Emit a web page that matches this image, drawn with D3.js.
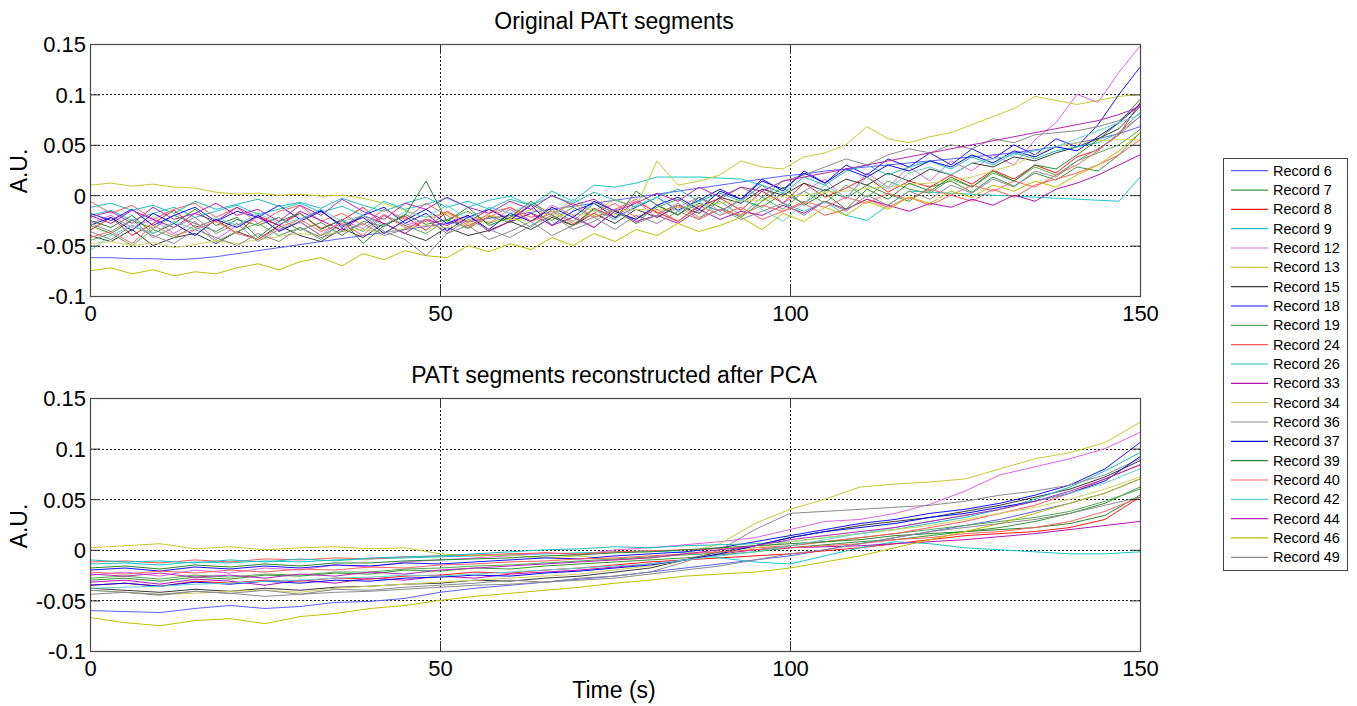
<!DOCTYPE html>
<html><head><meta charset="utf-8">
<script src="https://cdn.jsdelivr.net/npm/d3@7"></script>
<style>
body{margin:0;background:#fff;}
text{font-family:"Liberation Sans",Arial,sans-serif;fill:#000;}
</style>
</head><body>
<svg id="chart" width="1357" height="706"></svg>
<script>
// ---------- DATA (values in units of 0.001 A.U.) ----------
const records = ["Record 6","Record 7","Record 8","Record 9","Record 12","Record 13","Record 15","Record 18","Record 19","Record 24","Record 26","Record 33","Record 34","Record 36","Record 37","Record 39","Record 40","Record 42","Record 44","Record 46","Record 49"];
const recordColors = ["#5f5fff","#3a963a","#ff1a1a","#1ec8c8","#dd66dd","#c8c832","#3a3a3a","#1414ff","#55aa55","#ff5a5a","#22bbbb","#b414b4","#d2d264","#8a8a8a","#0a0ae6","#2d862d","#ff6464","#66d0d0","#b428b4","#c0c000","#8c8c8c"];

const timesTop = [0,3,6,9,12,15,18,21,24,27,30,33,36,39,42,45,48,51,54,57,60,63,66,69,72,75,78,81,84,87,90,93,96,99,102,105,108,111,114,117,120,123,126,129,132,135,138,141,144,147,150];
const timesBottom = [0,5,10,15,20,25,30,35,40,45,50,55,60,65,70,75,80,85,90,95,100,105,110,115,120,125,130,135,140,145,150];

const xTicks = [0,50,100,150];
const xTickLabels = ["0","50","100","150"];
const yTicks = [-100,-50,0,50,100,150];
const yTickLabels = ["-0.1","-0.05","0","0.05","0.1","0.15"];

const titles = ["Original PATt segments","PATt segments reconstructed after PCA"];
const yLabel = "A.U.";
const xLabel = "Time (s)";

// Original PATt segments
const orig6  = [-62,-62,-63,-63,-64,-63,-61,-58,-55,-52,-49,-46,-43,-40,-37,-34,-31,-28,-26,-23,-20,-17,-14,-11,-8,-5,-2,1,4,7,10,13,16,19,21,24,26,28,30,32,34,36,38,40,42,45,48,52,56,61,68];
const orig7  = [-30,-38,-25,-33,-20,-28,-36,-24,-30,-22,-35,-27,-40,-26,-31,-19,-29,-24,-33,-21,-27,-18,-25,-12,-22,-15,-28,-10,-19,-8,-16,-4,-12,2,-8,6,-3,10,1,-6,8,14,3,18,9,22,15,28,24,40,62];
const orig8  = [-35,-22,-40,-28,-15,-32,-24,-38,-20,-30,-18,-33,-25,-12,-29,-21,-35,-16,-27,-14,-24,-9,-20,-30,-13,-22,-6,-17,-26,-11,-3,-15,4,-8,12,-2,7,18,3,14,8,20,11,25,16,30,22,38,45,60,92];
const orig9  = [-20,-15,-25,-18,-12,-22,-16,-10,-19,-14,-8,-17,-11,-20,-6,-14,-9,-3,-12,-5,-1,-10,4,-6,10,8,12,18,18,18,17,16,10,-8,-16,-6,-20,-25,-10,4,3,2,1,0,-1,-2,-3,-4,-5,-6,18];
const orig12 = [-28,-20,-32,-24,-38,-26,-44,-30,-22,-35,-27,-40,-25,-33,-19,-30,-24,-36,-21,-28,-14,-26,-10,-20,-32,-15,-6,-22,-12,-2,-16,-5,10,-8,4,16,-4,22,8,28,14,34,24,40,30,55,72,100,92,122,148];
const orig13 = [10,12,9,11,8,7,3,1,2,0,1,-1,0,-3,-8,-15,-22,-18,-26,-20,-24,-14,-20,-8,-16,-4,-12,34,10,14,20,34,28,26,38,42,50,68,56,52,58,62,70,78,86,98,94,90,94,98,100];
const orig15 = [-40,-46,-34,-50,-42,-38,-48,-36,-44,-30,-40,-46,-33,-42,-28,-38,-45,-32,-40,-35,-26,-34,-22,-30,-18,-28,-14,-22,-10,-18,-2,-8,6,0,12,4,16,10,22,14,26,20,32,28,38,34,42,48,56,66,88];
const orig18 = [-18,-25,-14,-30,-20,-12,-26,-16,-22,-10,-24,-15,-32,-20,-12,-28,-18,-35,-22,-14,-25,-10,-30,-16,-8,-22,-12,-2,-15,-5,6,-4,16,4,24,12,30,20,36,28,42,30,46,36,50,40,56,48,70,100,127];
const orig19 = [-45,-38,-50,-34,-42,-30,-46,-36,-28,-40,-32,-44,-26,-36,-20,-30,-38,-24,-16,-28,-20,-32,-14,-26,-8,-18,-24,-12,-4,-16,-6,-20,-2,-14,4,-8,10,-2,14,6,2,16,8,22,14,28,20,34,42,50,65];
const orig24 = [-6,-18,-10,-24,-14,-8,-22,-12,-28,-16,-10,-26,-18,-30,-14,-24,-8,-20,-32,-18,-12,-22,-16,-28,-18,-8,-22,-14,-26,-10,-20,-12,-24,-16,-8,-20,-14,-4,-12,-2,-10,0,-6,6,-2,10,16,22,30,40,55];
const orig26 = [-12,-8,-15,-10,-18,-6,-14,-9,-4,-11,-7,-13,-3,-10,-16,-8,-2,-12,-6,-14,-4,-10,-1,-8,3,-5,-12,-2,6,-6,2,-6,10,2,18,10,24,30,20,28,34,26,38,30,42,36,44,48,52,62,82];
const orig33 = [-20,-28,-15,-24,-32,-18,-26,-12,-22,-30,-16,-25,-35,-20,-28,-38,-24,-30,-20,-36,-26,-18,-30,-22,-32,-16,-26,-20,-28,-14,-24,-16,-20,-10,-18,-6,-14,-4,-10,-16,-8,-12,-4,-10,0,-6,6,12,20,30,40];
const orig34 = [-48,-46,-50,-47,-52,-49,-45,-48,-44,-41,-38,-40,-36,-34,-37,-33,-30,-32,-28,-26,-24,-25,-21,-19,-20,-16,-14,-15,-12,-10,-8,-5,-5,-1,0,3,4,7,8,11,12,15,18,24,30,40,48,52,54,55,55];
const orig36 = [-36,-44,-30,-40,-48,-34,-42,-50,-38,-46,-32,-42,-36,-28,-40,-34,-24,-38,-30,-44,-36,-26,-40,-30,-22,-34,-20,-28,-16,-24,-4,8,-2,14,20,28,36,30,40,46,42,50,46,56,52,60,62,64,68,74,90];
const orig37 = [-30,-22,-35,-18,-28,-40,-24,-32,-20,-36,-26,-16,-30,-22,-38,-25,-14,-28,-20,-34,-18,-26,-12,-22,-6,-16,-24,-10,-2,-14,4,-4,14,6,22,12,26,18,30,24,34,28,40,32,44,38,48,44,58,72,90];
const orig39 = [-25,-32,-20,-38,-28,-14,-30,-22,-42,-26,-18,-34,-24,-48,-30,-20,14,-26,-12,-30,-22,-6,-20,-30,-14,-24,4,-10,-20,-2,-12,-22,-6,8,-10,2,-14,6,-4,12,4,18,8,24,14,30,26,40,55,72,95];
const orig40 = [-42,-36,-48,-30,-40,-34,-26,-38,-44,-32,-24,-36,-28,-40,-20,-32,-26,-16,-30,-22,-12,-26,-18,-8,-22,-14,-4,-18,-10,-24,-14,-20,-10,-16,-6,-12,-2,-8,2,-4,6,0,10,4,14,8,20,30,44,62,78];
const orig42 = [-55,-40,-30,-38,-26,-34,-22,-30,-18,-28,-24,-14,-26,-20,-30,-16,-22,-10,-24,-12,-18,-8,-20,-4,-14,-24,-10,-2,-16,-6,-20,-4,-14,-26,-8,10,-2,18,6,22,28,20,32,36,40,44,48,56,64,72,80];
const orig44 = [-22,-16,-28,-12,-24,-18,-8,-20,-14,-26,-10,-20,-4,-16,-24,-8,-14,-2,-12,-18,-6,-14,0,-10,-4,-16,-8,2,-6,8,-2,8,4,14,18,22,26,30,34,38,42,46,50,54,58,62,66,70,74,80,88];
const orig46 = [-75,-72,-78,-74,-80,-76,-78,-72,-68,-74,-66,-62,-70,-58,-64,-55,-60,-62,-50,-56,-48,-54,-42,-50,-38,-46,-34,-40,-28,-36,-30,-22,-34,-18,-26,-12,-20,-6,-14,-2,-8,4,-2,10,4,14,8,20,30,44,62];
const orig49 = [-28,-36,-24,-42,-32,-22,-38,-28,-46,-34,-26,-40,-30,-20,-36,-44,-60,-38,-24,-34,-42,-30,-20,-34,-26,-14,-28,-20,-8,-22,-14,-24,-16,-8,-20,-6,-16,0,-10,4,-4,10,2,16,8,24,18,34,46,60,78];

// PATt segments reconstructed after PCA
const rec6  = [-60,-61,-62,-58,-55,-58,-56,-52,-51,-48,-42,-38,-35,-32,-29,-26,-22,-18,-14,-10,-6,0,6,12,18,24,30,38,46,56,70];
const rec7  = [-30,-28,-31,-27,-29,-25,-26,-23,-24,-20,-21,-18,-19,-16,-14,-12,-10,-8,-5,-2,2,5,8,10,14,18,22,28,36,46,62];
const rec8  = [-35,-33,-36,-31,-33,-30,-31,-28,-29,-26,-25,-22,-23,-20,-18,-15,-12,-10,-8,-6,-4,-1,2,6,10,14,16,18,22,30,52];
const rec9  = [-14,-13,-15,-12,-13,-11,-12,-10,-9,-8,-7,-6,-5,-4,-3,-2,-1,-3,-8,-12,-14,-6,2,8,6,2,0,-2,-4,-4,-2];
const rec12 = [-25,-22,-26,-20,-23,-18,-20,-15,-17,-12,-10,-8,-6,-3,-5,0,2,5,8,12,20,28,30,36,45,58,74,82,90,100,116];
const rec13 = [2,4,6,1,3,0,2,3,1,2,-4,-6,-5,-8,-6,-10,-8,-4,6,26,40,50,62,65,67,70,80,90,96,106,126];
const rec15 = [-38,-40,-42,-39,-41,-38,-40,-37,-36,-34,-33,-30,-31,-28,-26,-22,-18,-10,-2,4,12,18,24,28,32,38,44,52,60,72,88];
const rec18 = [-20,-18,-21,-17,-19,-16,-18,-15,-16,-13,-14,-12,-10,-8,-9,-6,-4,-2,2,8,14,20,26,30,36,40,46,54,64,80,106];
const rec19 = [-28,-26,-29,-25,-27,-24,-25,-22,-22,-19,-18,-16,-15,-13,-11,-9,-7,-5,-3,0,4,8,12,16,20,24,28,32,38,48,60];
const rec24 = [-12,-11,-13,-10,-12,-9,-10,-8,-9,-7,-6,-5,-4,-3,-4,-2,-1,0,1,2,4,8,12,16,22,28,36,44,56,70,84];
const rec26 = [-10,-12,-11,-13,-10,-12,-9,-11,-8,-7,-6,-4,-2,0,1,3,2,4,5,6,8,12,16,20,26,32,40,50,62,78,96];
const rec33 = [-32,-30,-34,-29,-31,-35,-30,-33,-28,-30,-26,-28,-24,-22,-20,-17,-14,-10,-4,0,2,3,4,6,8,10,13,16,20,24,28];
const rec34 = [-40,-42,-44,-43,-41,-40,-42,-38,-36,-34,-32,-30,-28,-26,-24,-20,-16,-10,-4,2,8,12,16,20,24,30,36,42,50,60,72];
const rec36 = [-44,-42,-45,-41,-43,-40,-44,-39,-40,-37,-35,-33,-30,-32,-28,-26,-22,-12,0,20,36,38,40,42,44,48,54,58,64,74,90];
const rec37 = [-35,-33,-36,-32,-34,-31,-33,-30,-31,-28,-27,-25,-26,-23,-21,-18,-15,-10,-4,4,12,18,22,26,32,36,42,48,56,68,92];
const rec39 = [-18,-16,-19,-15,-17,-14,-16,-13,-13,-11,-10,-9,-8,-6,-5,-3,-2,0,2,4,6,8,10,14,16,18,20,22,26,34,54];
const rec40 = [-22,-24,-21,-23,-20,-22,-19,-20,-17,-18,-15,-14,-12,-11,-9,-8,-6,-4,-2,0,2,4,6,10,12,16,18,22,28,38,52];
const rec42 = [-38,-37,-36,-34,-33,-31,-30,-28,-27,-25,-26,-24,-22,-20,-18,-16,-14,-10,-6,-2,4,10,16,22,28,34,40,48,56,66,80];
const rec44 = [-24,-26,-23,-27,-25,-28,-24,-26,-22,-24,-20,-18,-16,-14,-12,-10,-8,-4,0,4,10,14,18,22,28,34,40,48,58,70,84];
const rec46 = [-67,-72,-75,-70,-68,-73,-66,-63,-58,-55,-50,-46,-43,-40,-37,-33,-30,-26,-24,-22,-18,-12,-6,2,10,18,26,36,46,56,70];
const rec49 = [-40,-42,-44,-41,-43,-46,-44,-42,-41,-39,-37,-35,-34,-32,-30,-28,-24,-20,-16,-10,-4,0,6,12,18,22,26,30,36,44,52];

const originalSeries = [orig6,orig7,orig8,orig9,orig12,orig13,orig15,orig18,orig19,orig24,orig26,orig33,orig34,orig36,orig37,orig39,orig40,orig42,orig44,orig46,orig49];
const reconSeries = [rec6,rec7,rec8,rec9,rec12,rec13,rec15,rec18,rec19,rec24,rec26,rec33,rec34,rec36,rec37,rec39,rec40,rec42,rec44,rec46,rec49];

// ---------- DRAWING ----------
const svg = d3.select("#chart");
const left = 90, right = 1140;

function drawPanel(idx, top, bottom, seriesList, times, title, titleY, ylabY) {
  const x = d3.scaleLinear().domain([0,150]).range([left,right]);
  const y = d3.scaleLinear().domain([-100,150]).range([bottom,top]);
  const g = svg.append("g");

  // grid
  g.selectAll(".vg").data(xTicks.filter(t=>t>0 && t<150)).join("line")
    .attr("x1",d=>x(d)+0.5).attr("x2",d=>x(d)+0.5).attr("y1",top).attr("y2",bottom)
    .attr("stroke","#222").attr("stroke-width",1).attr("stroke-dasharray","2,2");
  g.selectAll(".hg").data(yTicks.filter(t=>t>-100 && t<150)).join("line")
    .attr("x1",left).attr("x2",right).attr("y1",d=>Math.round(y(d))+0.5).attr("y2",d=>Math.round(y(d))+0.5)
    .attr("stroke","#222").attr("stroke-width",1).attr("stroke-dasharray","2,2");

  // clip
  const cid = "clip"+idx;
  svg.append("clipPath").attr("id",cid).append("rect")
    .attr("x",left).attr("y",top).attr("width",right-left).attr("height",bottom-top);

  const line = d3.line().x((d,i)=>x(times[i])).y(d=>y(d));
  g.append("g").attr("clip-path",`url(#${cid})`)
    .selectAll("path").data(seriesList).join("path")
    .attr("d",d=>line(d)).attr("fill","none")
    .attr("stroke",(d,i)=>recordColors[i]).attr("stroke-width",1);

  // axes
  const fs = "22px";
  const ax = g.append("g").attr("transform",`translate(0,${bottom})`)
    .call(d3.axisBottom(x).tickValues(xTicks).tickFormat((d,i)=>xTickLabels[i]).tickSizeInner(-10).tickSizeOuter(0).tickPadding(5));
  const ay = g.append("g").attr("transform",`translate(${left},0)`)
    .call(d3.axisLeft(y).tickValues(yTicks).tickFormat((d,i)=>yTickLabels[i]).tickSizeInner(-10).tickSizeOuter(0).tickPadding(4));
  const at = g.append("g").attr("transform",`translate(0,${top})`)
    .call(d3.axisTop(x).tickValues(xTicks).tickFormat("").tickSizeInner(-10).tickSizeOuter(0));
  const ar = g.append("g").attr("transform",`translate(${right},0)`)
    .call(d3.axisRight(y).tickValues(yTicks).tickFormat("").tickSizeInner(-10).tickSizeOuter(0));
  [ax,ay,at,ar].forEach(a=>{
    a.select(".domain").remove();
    a.selectAll("line").attr("stroke","#333");
    a.selectAll("text").style("font-size",fs).attr("fill","#000").style("font-family",'"Liberation Sans",Arial,sans-serif');
  });
  ax.selectAll("text").attr("dy","0.9em");
  ay.selectAll("text").attr("dy","0.36em");

  // box
  g.append("rect").attr("x",left+0.5).attr("y",top+0.5).attr("width",right-left).attr("height",bottom-top)
    .attr("fill","none").attr("stroke","#4a4a4a").attr("stroke-width",1.2);

  // title
  svg.append("text").attr("x",614).attr("y",titleY).attr("text-anchor","middle")
    .style("font-size","23px").text(title);
  // y label
  svg.append("text").attr("transform",`translate(27,${ylabY}) rotate(-90)`).attr("text-anchor","middle")
    .style("font-size","23px").text(yLabel);
}

drawPanel(0, 44, 296, originalSeries, timesTop, titles[0], 29, 171);
drawPanel(1, 398, 651, reconSeries, timesBottom, titles[1], 383, 526);

svg.append("text").attr("x",614).attr("y",698).attr("text-anchor","middle")
  .style("font-size","23px").text(xLabel);

// legend
const lg = svg.append("g");
lg.append("rect").attr("x",1223.5).attr("y",158.5).attr("width",124).attr("height",412)
  .attr("fill","#fff").attr("stroke","#444").attr("stroke-width",1);
const items = lg.selectAll(".it").data(records).join("g")
  .attr("transform",(d,i)=>`translate(0,${170.7 + i*19.33})`);
items.append("line").attr("x1",1231).attr("x2",1268).attr("y1",0).attr("y2",0)
  .attr("stroke",(d,i)=>recordColors[i]).attr("stroke-width",1.2);
items.append("text").attr("x",1273).attr("y",0).attr("dy","0.35em")
  .style("font-size","14.5px").text(d=>d);
</script>
</body></html>
